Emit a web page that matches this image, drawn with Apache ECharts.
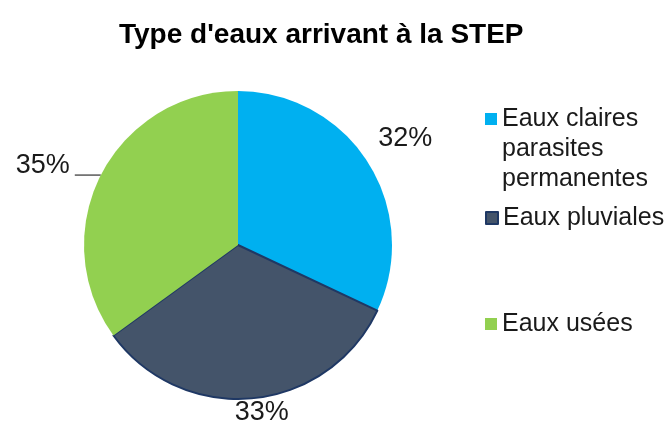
<!DOCTYPE html>
<html>
<head>
<meta charset="utf-8">
<script src="https://cdn.jsdelivr.net/npm/echarts@6/dist/echarts.min.js"></script>
<style>
  html, body { margin: 0; padding: 0; background: #fff; }
  #chart { width: 670px; height: 428px; }
</style>
</head>
<body>
<div id="chart"></div>
<script>
// données
var categories = ['Eaux claires parasites permanentes', 'Eaux pluviales', 'Eaux usées'];
var values = [32, 33, 35];
var colors = ['#00B0F0', '#44546A', '#92D050'];

var font = 'Liberation Sans, Arial, sans-serif';

// petits décalages des étiquettes (px)
var labelNudge = [[0, 0], [8, 0], [0, -10]];

var chart = echarts.init(document.getElementById('chart'));

var legendTops = [44, 203, 309];
var legends = categories.map(function (name, i) {
    return {
        data: [name],
        left: 485,
        top: legendTops[i],
        padding: 0,
        icon: 'rect',
        itemWidth: 12,
        itemHeight: 12,
        selectedMode: false,
        formatter: function (n) {
            // deux lignes vides devant : le carré reste en face de la 1re ligne
            return n === categories[0] ? ' \n \nEaux claires\nparasites\npermanentes' : n;
        },
        textStyle: {
            fontFamily: font,
            fontSize: 25,
            color: '#1a1a1a',
            lineHeight: 30
        }
    };
});

chart.setOption({
    backgroundColor: '#fff',
    animation: false,
    title: {
        text: "Type d'eaux arrivant à la STEP",
        left: 114,
        top: 16,
        textStyle: {
            fontFamily: font,
            fontWeight: 'bold',
            fontSize: 28,
            color: '#000'
        }
    },
    legend: legends,
    series: [{
        type: 'pie',
        center: [238, 245],
        radius: 154,
        startAngle: 90,
        clockwise: true,
        avoidLabelOverlap: false,
        label: {
            show: true,
            position: 'outside',
            formatter: '{c}%',
            fontFamily: font,
            fontSize: 27,
            color: '#1a1a1a'
        },
        labelLayout: function (p) {
            var i = p.dataIndex;
            var dx = labelNudge[i][0], dy = labelNudge[i][1];
            if (i !== 2) dx += -p.labelRect.width / 2 - 5;
            return { dx: dx, dy: dy };
        },
        data: categories.map(function (name, i) {
            var item = {
                name: name,
                value: values[i],
                itemStyle: { color: colors[i] }
            };
            if (i === 1) {
                item.itemStyle.borderColor = '#1F3864';
                item.itemStyle.borderWidth = 2;
            }
            if (i === 2) {
                item.labelLine = { show: true, length: 0, length2: 26, smooth: false,
                    lineStyle: { color: '#595959', width: 1.5 } };
            } else {
                item.labelLine = { show: false, length: i === 0 ? 44 : 14, length2: 0 };
            }
            return item;
        })
    }]
});
</script>
</body>
</html>
